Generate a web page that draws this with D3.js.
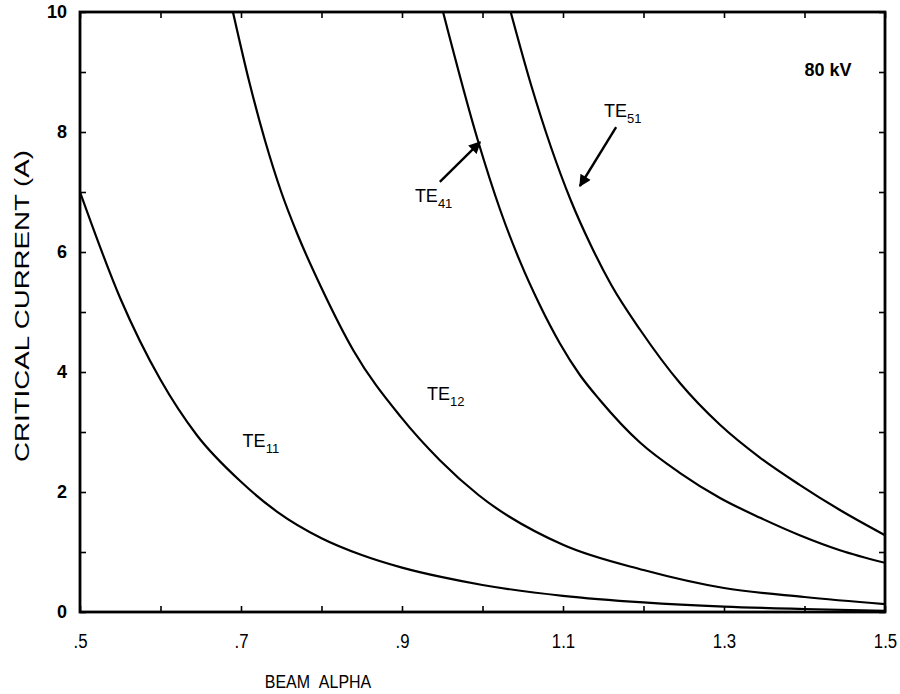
<!DOCTYPE html>
<html>
<head>
<meta charset="utf-8">
<script src="https://cdn.jsdelivr.net/npm/d3@7"></script>
<style>
  body { margin: 0; background: #fff; }
  svg { display: block; }
</style>
</head>
<body>
<svg id="chart" width="900" height="694"></svg>
<script>
// ---- data ----
const te11X = [0.50, 0.55, 0.60, 0.645, 0.70, 0.745, 0.80, 0.85, 0.90, 0.95, 1.00, 1.10, 1.20, 1.30, 1.40, 1.50];
const te11Y = [7.00, 5.23, 3.87, 2.95, 2.17, 1.67, 1.23, 0.95, 0.74, 0.58, 0.45, 0.27, 0.16, 0.09, 0.05, 0.02];

const te12X = [0.69, 0.71, 0.73, 0.75, 0.77, 0.80, 0.84, 0.898, 0.947, 0.995, 1.10, 1.20, 1.30, 1.40, 1.50];
const te12Y = [10.0, 8.85, 7.85, 7.00, 6.30, 5.40, 4.35, 3.26, 2.53, 1.95, 1.12, 0.70, 0.40, 0.25, 0.13];

const te41X = [0.951, 0.994, 1.022, 1.047, 1.071, 1.096, 1.121, 1.146, 1.196, 1.245, 1.295, 1.345, 1.394, 1.444, 1.50];
const te41Y = [10.0, 7.87, 6.70, 5.83, 5.12, 4.48, 3.95, 3.53, 2.82, 2.32, 1.90, 1.57, 1.28, 1.03, 0.82];

const te51X = [1.035, 1.06, 1.085, 1.11, 1.135, 1.16, 1.196, 1.245, 1.295, 1.345, 1.394, 1.444, 1.50];
const te51Y = [10.0, 8.8, 7.75, 6.85, 6.10, 5.45, 4.70, 3.82, 3.12, 2.57, 2.12, 1.70, 1.28];

const xMajorTicks = [0.5, 0.7, 0.9, 1.1, 1.3, 1.5];
const xTickLabels = [".5", ".7", ".9", "1.1", "1.3", "1.5"];
const xMinorTicks = [0.5, 0.6, 0.7, 0.8, 0.9, 1.0, 1.1, 1.2, 1.3, 1.4, 1.5];
const yMajorTicks = [0, 2, 4, 6, 8, 10];
const yMinorTicks = [0, 1, 2, 3, 4, 5, 6, 7, 8, 9, 10];

// curve labels: [main, subscript, x, y]
const curveLabels = [
  ["TE", "11", 0.702, 2.75],
  ["TE", "12", 0.931, 3.53],
  ["TE", "41", 0.916, 6.83],
  ["TE", "51", 1.151, 8.25]
];
// arrows: [x0, y0, x1(tip), y1(tip)]
const arrows = [
  [0.947, 7.17, 0.997, 7.83],
  [1.166, 8.08, 1.121, 7.10]
];
const voltageLabel = "80 kV";
const xTitle = "BEAM\u00a0\u00a0ALPHA";
const yTitle = "CRITICAL CURRENT (A)";

// ---- chart ----
const svg = d3.select("#chart");
const L = 80, R = 885, T = 12, B = 612;
const x = d3.scaleLinear().domain([0.5, 1.5]).range([L, R]);
const y = d3.scaleLinear().domain([0, 10]).range([B, T]);
const narrowFont = "'Liberation Sans Narrow', 'Arial Narrow', 'Liberation Sans', Arial, sans-serif";

const defs = svg.append("defs");
defs.append("clipPath").attr("id", "clip")
  .append("rect").attr("x", L).attr("y", T).attr("width", R - L).attr("height", B - T);
defs.append("marker")
  .attr("id", "arrowhead").attr("viewBox", "0 0 10 10")
  .attr("refX", 9).attr("refY", 5)
  .attr("markerUnits", "userSpaceOnUse")
  .attr("markerWidth", 15).attr("markerHeight", 12)
  .attr("orient", "auto")
  .append("path").attr("d", "M0,0 L10,5 L0,10 Z").attr("fill", "#000");

// squeeze a text element horizontally to emulate a narrow face
function squeeze(sel, f) {
  sel.each(function () {
    const w = this.getComputedTextLength();
    d3.select(this).attr("textLength", w * f).attr("lengthAdjust", "spacingAndGlyphs");
  });
}

// minor ticks (all four sides, inward)
const tickLen = 6;
const gx = svg.append("g").attr("transform", `translate(0,${B})`)
  .call(d3.axisBottom(x).tickValues(xMinorTicks).tickSize(-tickLen).tickFormat(""));
const gxt = svg.append("g").attr("transform", `translate(0,${T})`)
  .call(d3.axisTop(x).tickValues(xMinorTicks).tickSize(-tickLen).tickFormat(""));
const gy = svg.append("g").attr("transform", `translate(${L},0)`)
  .call(d3.axisLeft(y).tickValues(yMinorTicks).tickSize(-tickLen).tickFormat(""));
const gyr = svg.append("g").attr("transform", `translate(${R},0)`)
  .call(d3.axisRight(y).tickValues(yMinorTicks).tickSize(-tickLen).tickFormat(""));
[gx, gxt, gy, gyr].forEach(g => {
  g.select(".domain").remove();
  g.selectAll(".tick line").attr("stroke", "#000").attr("stroke-width", 1.6);
});

// x tick labels
const gxl = svg.append("g").attr("transform", `translate(0,${B})`)
  .call(d3.axisBottom(x).tickValues(xMajorTicks).tickSize(0).tickPadding(22)
    .tickFormat((d, i) => xTickLabels[i]));
gxl.select(".domain").remove();
gxl.selectAll("text")
  .attr("font-family", narrowFont)
  .attr("font-size", 20).attr("fill", "#000")
  .call(squeeze, 0.84);

// y tick labels
const gyl = svg.append("g").attr("transform", `translate(${L},0)`)
  .call(d3.axisLeft(y).tickValues(yMajorTicks).tickSize(0).tickPadding(13));
gyl.select(".domain").remove();
gyl.selectAll("text")
  .attr("font-family", "'Liberation Sans', Arial, sans-serif")
  .attr("font-weight", "bold")
  .attr("font-size", 18).attr("fill", "#000");

// frame
svg.append("rect")
  .attr("x", L).attr("y", T).attr("width", R - L).attr("height", B - T)
  .attr("fill", "none").attr("stroke", "#000").attr("stroke-width", 2.8);

// curves
const line = d3.line().x(d => x(d[0])).y(d => y(d[1])).curve(d3.curveMonotoneX);
const series = [[te11X, te11Y], [te12X, te12Y], [te41X, te41Y], [te51X, te51Y]];
svg.append("g").attr("clip-path", "url(#clip)")
  .selectAll("path").data(series).join("path")
  .attr("d", s => line(s[0].map((v, i) => [v, s[1][i]])))
  .attr("fill", "none").attr("stroke", "#000").attr("stroke-width", 2.2);

// curve labels
const lab = svg.append("g")
  .attr("font-family", "'Liberation Sans', Arial, sans-serif").attr("fill", "#000");
curveLabels.forEach(c => {
  const t = lab.append("text").attr("x", x(c[2])).attr("y", y(c[3])).attr("font-size", 18);
  t.append("tspan").text(c[0]);
  t.append("tspan").attr("dy", 6).attr("font-size", 13).text(c[1]);
});

// arrows
svg.append("g").selectAll("line").data(arrows).join("line")
  .attr("x1", d => x(d[0])).attr("y1", d => y(d[1]))
  .attr("x2", d => x(d[2])).attr("y2", d => y(d[3]))
  .attr("stroke", "#000").attr("stroke-width", 2.4)
  .attr("marker-end", "url(#arrowhead)");

// 80 kV
svg.append("text").attr("x", x(1.40)).attr("y", y(8.93))
  .attr("font-family", "'Liberation Sans', Arial, sans-serif")
  .attr("font-weight", "bold").attr("font-size", 18).text(voltageLabel);

// axis titles
svg.append("text").attr("x", 318).attr("y", 688)
  .attr("text-anchor", "middle")
  .attr("font-family", narrowFont)
  .attr("font-size", 19).text(xTitle)
  .call(squeeze, 0.84);

svg.append("text")
  .attr("transform", `translate(29,${(T + B) / 2 - 6}) rotate(-90)`)
  .attr("text-anchor", "middle")
  .attr("font-family", "'Liberation Sans', Arial, sans-serif")
  .attr("font-size", 20)
  .attr("textLength", 312).attr("lengthAdjust", "spacingAndGlyphs")
  .text(yTitle);
</script>
</body>
</html>
